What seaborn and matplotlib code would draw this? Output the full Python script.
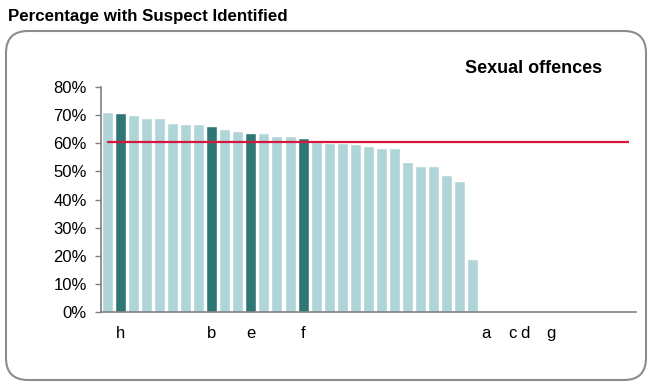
import pandas as pd
import matplotlib
matplotlib.use("Agg")
import matplotlib.pyplot as plt
from matplotlib.patches import FancyBboxPatch
from matplotlib.ticker import PercentFormatter
import seaborn as sns

# 41 category slots, only some of them are labelled
labels = ["", "h", "", "", "", "", "", "", "b", "", "", "e", "", "", "", "f",
          "", "", "", "", "", "", "", "", "", "", "", "", "", "a", "", "c",
          "d", "", "g", "", "", "", "", "", ""]
values = [71.3, 70.9, 70.3, 68.9, 68.9, 67.4, 67.0, 67.0, 66.1, 65.3, 64.3,
          63.8, 63.6, 62.8, 62.5, 62.0, 60.4, 60.3, 60.2, 59.9, 59.2, 58.5,
          58.3, 53.2, 51.9, 51.8, 48.7, 46.5, 18.7]
highlighted = ["h", "b", "e", "f"]
average = 60.5

light = "#b0d5d8"
dark = "#2f7777"
red = "#d7163f"

slots = list(range(len(labels)))
df = pd.DataFrame({"slot": slots[:len(values)], "value": values})
df["group"] = ["hi" if labels[i] in highlighted else "lo" for i in df["slot"]]

sns.set_style("white")
plt.rcParams["font.family"] = ["Liberation Sans", "DejaVu Sans"]
plt.rcParams["text.color"] = "black"
plt.rcParams["xtick.color"] = "black"
plt.rcParams["ytick.color"] = "black"

fig = plt.figure(figsize=(6.48, 3.85), dpi=100)
ax = fig.add_axes([0.1554, 0.1904, 0.8261, 0.5828])

sns.barplot(data=df, x="slot", y="value", hue="group", order=slots,
            palette={"hi": dark, "lo": light}, width=0.84, dodge=False,
            legend=False, ax=ax, saturation=1)
ax.hlines(average, 0, len(labels) - 1, color=red, lw=1.6, zorder=3)

ax.set_xlim(-0.5, len(labels) - 0.5)
ax.set_ylim(0, 80)
ax.set_yticks(range(0, 81, 10))
ax.yaxis.set_major_formatter(PercentFormatter(decimals=0))
ax.set_xticks(slots)
ax.set_xticklabels(labels)
ax.set_xlabel("")
ax.set_ylabel("")
ax.tick_params(axis="x", length=0, pad=10, labelsize=12)
ax.tick_params(axis="y", length=4, width=1, color="#808080", pad=6,
               labelsize=12, left=True)
sns.despine(ax=ax)
for s in ["left", "bottom"]:
    ax.spines[s].set_color("#808080")
    ax.spines[s].set_linewidth(1.2)

ax.text(0.808, 1.086, "Sexual offences", transform=ax.transAxes, ha="center",
        va="center", fontsize=13, fontweight="bold")

fig.text(8 / 648, 1 - 16 / 385, "Percentage with Suspect Identified",
         fontsize=12.2, fontweight="bold", va="center", ha="left")

box = FancyBboxPatch((6, 5), 640, 349, boxstyle="round,pad=0,rounding_size=22",
                     transform=None, facecolor="none", edgecolor="#8c8c8c",
                     lw=1.5)
fig.patches.append(box)

fig.savefig("out.png", dpi=100)
